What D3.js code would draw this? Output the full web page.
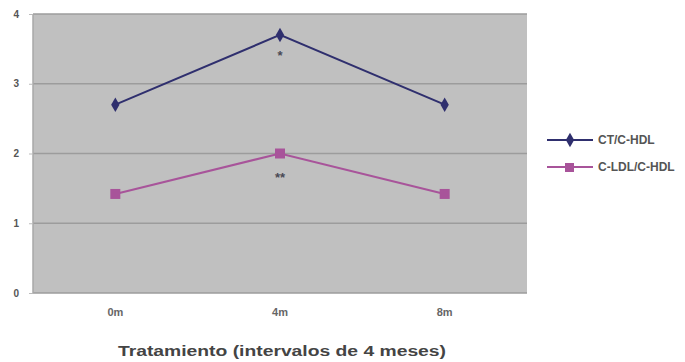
<!DOCTYPE html>
<html>
<head>
<meta charset="utf-8">
<script src="https://cdn.jsdelivr.net/npm/d3@7"></script>
<style>
  html, body { margin: 0; padding: 0; background: #fff; }
  svg { display: block; font-family: Arial, "Liberation Sans", sans-serif; }
</style>
</head>
<body>
<svg id="chart" width="685" height="362"></svg>
<script>
// Treatment intervals and ratio values
const periods = ["0m", "4m", "8m"];
const ctHdl = [2.7, 3.7, 2.7];
const ldlHdl = [1.42, 2.0, 1.42];
const seriesNames = ["CT/C-HDL", "C-LDL/C-HDL"];
const marks = ["", "*", ""];
const marks2 = ["", "**", ""];
const yTicks = [0, 1, 2, 3, 4];
const xTitle = "Tratamiento (intervalos de 4 meses)";

const svg = d3.select("#chart");
const plot = { left: 33, right: 527, top: 14, bottom: 293 };

const x = d3.scaleBand().domain(periods).range([plot.left, plot.right]);
const y = d3.scaleLinear().domain([0, 4]).range([plot.bottom, plot.top]);

// plot area
svg.append("rect")
  .attr("x", plot.left).attr("y", plot.top)
  .attr("width", plot.right - plot.left).attr("height", plot.bottom - plot.top)
  .attr("fill", "#c0c0c0");

// gridlines
svg.append("g").selectAll("line").data(yTicks).join("line")
  .attr("x1", plot.left).attr("x2", plot.right)
  .attr("y1", d => y(d)).attr("y2", d => y(d))
  .attr("stroke", "#9c9c9c").attr("stroke-width", 1.5);

// left axis line
svg.append("line")
  .attr("x1", plot.left).attr("x2", plot.left)
  .attr("y1", plot.top).attr("y2", plot.bottom)
  .attr("stroke", "#a8a8a8").attr("stroke-width", 1.5);

// y axis
const yAxis = svg.append("g")
  .attr("transform", `translate(${plot.left},0)`)
  .call(d3.axisLeft(y).tickValues(yTicks).tickFormat(d3.format("d")).tickSize(4).tickPadding(10));
yAxis.select(".domain").remove();
yAxis.selectAll("line").attr("stroke", "#bbb");
yAxis.selectAll("text").attr("font-size", 10).attr("font-weight", "bold").attr("fill", "#555");

// x axis
const xAxis = svg.append("g")
  .attr("transform", `translate(0,${plot.bottom})`)
  .call(d3.axisBottom(x).tickSize(0).tickPadding(15));
xAxis.select(".domain").remove();
xAxis.selectAll("text").attr("font-size", 11).attr("font-weight", "bold").attr("fill", "#666");

// axis title
svg.append("text")
  .attr("x", (plot.left + plot.right) / 2 + 2).attr("y", 356)
  .attr("text-anchor", "middle")
  .attr("font-size", 14).attr("font-weight", "bold").attr("fill", "#444")
  .attr("textLength", 328).attr("lengthAdjust", "spacingAndGlyphs")
  .text(xTitle);

const cx = d => x(d) + x.bandwidth() / 2;
const line = d3.line().x((d, i) => cx(periods[i])).y(d => y(d));

const navy = "#2f2f6e";
const magenta = "#a8549a";

// series lines
svg.append("path").datum(ctHdl).attr("d", line)
  .attr("fill", "none").attr("stroke", navy).attr("stroke-width", 2);
svg.append("path").datum(ldlHdl).attr("d", line)
  .attr("fill", "none").attr("stroke", magenta).attr("stroke-width", 2);

// markers
const diamond = d3.symbol().type(d3.symbolDiamond).size(60);
svg.append("g").selectAll("path").data(ctHdl).join("path")
  .attr("d", diamond)
  .attr("transform", (d, i) => `translate(${cx(periods[i])},${y(d)})`)
  .attr("fill", navy);
svg.append("g").selectAll("rect").data(ldlHdl).join("rect")
  .attr("x", (d, i) => cx(periods[i]) - 5).attr("y", d => y(d) - 5)
  .attr("width", 10).attr("height", 10)
  .attr("fill", magenta);

// significance marks
svg.append("g").selectAll("text").data(marks).join("text")
  .attr("x", (d, i) => cx(periods[i])).attr("y", (d, i) => y(ctHdl[i]) + 25)
  .attr("text-anchor", "middle").attr("font-size", 13).attr("font-weight", "bold").attr("fill", "#4a4a55")
  .text(d => d);
svg.append("g").selectAll("text").data(marks2).join("text")
  .attr("x", (d, i) => cx(periods[i])).attr("y", (d, i) => y(ldlHdl[i]) + 28)
  .attr("text-anchor", "middle").attr("font-size", 13).attr("font-weight", "bold").attr("fill", "#4a4a55")
  .text(d => d);

// legend
const legend = svg.append("g").attr("transform", "translate(547,140)");
[navy, magenta].forEach((c, i) => {
  const g = legend.append("g").attr("transform", `translate(0,${i * 27})`);
  g.append("line").attr("x1", 0).attr("x2", 46).attr("stroke", c).attr("stroke-width", 2);
  if (i === 0) {
    g.append("path").attr("d", diamond).attr("transform", "translate(23,0)").attr("fill", c);
  } else {
    g.append("rect").attr("x", 18).attr("y", -4).attr("width", 9).attr("height", 9).attr("fill", c);
  }
  g.append("text").attr("x", 51).attr("y", 4)
    .attr("font-size", 12).attr("font-weight", "bold").attr("fill", "#555")
    .text(seriesNames[i]);
});
</script>
</body>
</html>
